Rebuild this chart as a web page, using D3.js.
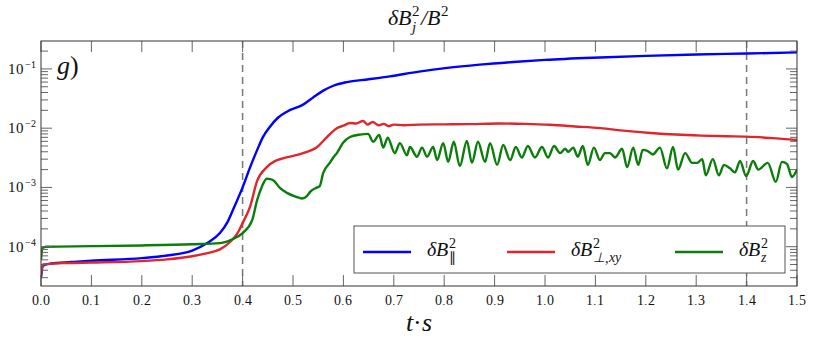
<!DOCTYPE html>
<html>
<head>
<meta charset="utf-8">
<script src="https://cdn.jsdelivr.net/npm/d3@7"></script>
<style>
  @font-face { font-family: "PaperSerif"; font-style: normal; src: local("Liberation Serif"), local("LiberationSerif"), local("LiberationSerif-Regular"); }
  @font-face { font-family: "PaperSerif"; font-style: italic; src: local("Liberation Serif Italic"), local("LiberationSerif-Italic"); }
</style>
</head>
<body style="margin:0">
<script>
// ---- data ----
var xTicks = [0.0, 0.1, 0.2, 0.3, 0.4, 0.5, 0.6, 0.7, 0.8, 0.9, 1.0, 1.1, 1.2, 1.3, 1.4, 1.5];
var yDecades = [1e-4, 1e-3, 1e-2, 1e-1];
var yDecadeExp = ["\u22124", "\u22123", "\u22122", "\u22121"];
var markerTimes = [0.4, 1.4];

// dB_par^2 (blue)
var parallel = [
  [0, 3.0e-5], [0.004, 4.8e-5], [0.02, 5.2e-5], [0.06, 5.5e-5], [0.1, 5.8e-5],
  [0.2, 6.4e-5], [0.25, 7.1e-5], [0.3, 8.6e-5], [0.33, 1.15e-4], [0.355, 1.7e-4],
  [0.37, 2.6e-4], [0.381, 4.2e-4], [0.4, 1.0e-3], [0.415, 2.2e-3], [0.429, 4.3e-3],
  [0.44, 7.0e-3], [0.454, 1.05e-2], [0.47, 1.5e-2], [0.488, 1.9e-2], [0.52, 2.5e-2],
  [0.54, 3.3e-2], [0.56, 4.3e-2], [0.58, 5.2e-2], [0.607, 6.0e-2], [0.65, 6.7e-2],
  [0.692, 7.5e-2], [0.75, 9.0e-2], [0.806, 1.04e-1], [0.87, 1.18e-1], [0.937, 1.31e-1],
  [1.0, 1.42e-1], [1.109, 1.56e-1], [1.2, 1.66e-1], [1.3, 1.75e-1], [1.4, 1.82e-1],
  [1.5, 1.9e-1]
];

// dB_perp,xy^2 (red)
var perpXY = [
  [0, 3.3e-5], [0.004, 5.0e-5], [0.05, 5.3e-5], [0.1, 5.4e-5], [0.2, 5.7e-5],
  [0.25, 6.1e-5], [0.3, 6.9e-5], [0.33, 7.8e-5], [0.355, 9.0e-5], [0.375, 1.2e-4],
  [0.39, 1.7e-4], [0.4, 2.5e-4], [0.415, 4.8e-4], [0.429, 1.3e-3], [0.448, 2.2e-3],
  [0.465, 2.8e-3], [0.48, 3.1e-3], [0.5, 3.4e-3], [0.52, 3.8e-3], [0.548, 4.8e-3],
  [0.567, 7.0e-3], [0.587, 1.0e-2], [0.6, 1.1e-2], [0.613, 1.22e-2], [0.625, 1.2e-2],
  [0.639, 1.32e-2], [0.648, 1.15e-2], [0.658, 1.27e-2], [0.67, 1.12e-2], [0.68, 1.18e-2],
  [0.69, 1.08e-2], [0.7, 1.15e-2], [0.72, 1.12e-2], [0.75, 1.15e-2], [0.8, 1.16e-2],
  [0.85, 1.17e-2], [0.91, 1.2e-2], [0.96, 1.18e-2], [1.01, 1.14e-2], [1.06, 1.07e-2],
  [1.11, 1.0e-2], [1.16, 9.0e-3], [1.21, 8.3e-3], [1.26, 7.8e-3], [1.31, 7.5e-3],
  [1.36, 7.3e-3], [1.4, 7.2e-3], [1.45, 6.8e-3], [1.5, 6.3e-3]
];

// dB_z^2 (green)
var zComp = [
  [0, 6.0e-5], [0.003, 9.5e-5], [0.01, 1.0e-4], [0.1, 1.02e-4], [0.2, 1.05e-4],
  [0.3, 1.1e-4], [0.355, 1.15e-4], [0.381, 1.35e-4], [0.4, 1.7e-4], [0.419, 2.8e-4],
  [0.429, 6.2e-4], [0.438, 1.02e-3], [0.448, 1.4e-3], [0.455, 1.38e-3], [0.462, 1.3e-3],
  [0.474, 9.8e-4], [0.488, 8.1e-4], [0.505, 7.0e-4], [0.518, 6.5e-4], [0.528, 7.2e-4],
  [0.534, 8.4e-4], [0.548, 1.0e-3], [0.553, 1.05e-3], [0.56, 1.76e-3], [0.573, 2.6e-3],
  [0.58, 3.2e-3], [0.587, 3.8e-3], [0.599, 5.6e-3], [0.613, 7.1e-3], [0.633, 7.8e-3],
  [0.649, 8.0e-3], [0.659, 5.9e-3], [0.671, 7.7e-3], [0.679, 4.7e-3], [0.688, 6.9e-3],
  [0.702, 3.8e-3], [0.712, 5.6e-3], [0.726, 3.5e-3], [0.732, 4.8e-3], [0.746, 3.3e-3],
  [0.756, 4.7e-3], [0.766, 3.3e-3], [0.778, 4.8e-3], [0.786, 2.9e-3], [0.798, 5.6e-3],
  [0.808, 2.7e-3], [0.819, 5.9e-3], [0.831, 2.3e-3], [0.845, 6.1e-3], [0.855, 2.6e-3],
  [0.867, 5.9e-3], [0.881, 2.7e-3], [0.891, 5.6e-3], [0.905, 2.4e-3], [0.917, 5.2e-3],
  [0.931, 2.9e-3], [0.942, 4.8e-3], [0.954, 3.2e-3], [0.966, 5.0e-3], [0.98, 3.2e-3],
  [0.994, 4.8e-3], [1.006, 3.2e-3], [1.018, 5.0e-3], [1.03, 3.8e-3], [1.04, 4.5e-3],
  [1.046, 4.0e-3], [1.056, 4.7e-3], [1.065, 3.3e-3], [1.075, 5.0e-3], [1.085, 2.4e-3],
  [1.097, 4.7e-3], [1.109, 2.9e-3], [1.119, 3.8e-3], [1.129, 3.8e-3], [1.139, 3.2e-3],
  [1.153, 4.5e-3], [1.163, 2.2e-3], [1.175, 4.7e-3], [1.185, 2.4e-3], [1.194, 4.3e-3],
  [1.204, 4.1e-3], [1.214, 3.6e-3], [1.228, 4.7e-3], [1.242, 2.1e-3], [1.254, 4.8e-3],
  [1.264, 2.0e-3], [1.278, 3.8e-3], [1.292, 2.6e-3], [1.302, 2.6e-3], [1.312, 3.0e-3],
  [1.319, 1.6e-3], [1.333, 3.0e-3], [1.345, 1.6e-3], [1.355, 2.4e-3], [1.367, 2.1e-3],
  [1.377, 1.8e-3], [1.387, 2.8e-3], [1.399, 1.55e-3], [1.413, 2.8e-3], [1.423, 2.0e-3],
  [1.442, 2.6e-3], [1.458, 1.24e-3], [1.47, 2.7e-3], [1.48, 2.5e-3], [1.49, 1.5e-3],
  [1.5, 2.0e-3]
];

var series = [
  { data: parallel, color: "#0000ff", label: [{ t: "\u03b4B" }, { sup: "2", sub: "\u2225", subUp: true }] },
  { data: perpXY, color: "#e0262b", label: [{ t: "\u03b4B" }, { sup: "2", sub: "\u22a5,xy" }] },
  { data: zComp, color: "#0b7d0b", label: [{ t: "\u03b4B" }, { sup: "2", sub: "z" }] }
];

var FONT = "PaperSerif, 'Liberation Serif', 'Times New Roman', serif";

// ---- layout ----
var margin = { top: 41, right: 16, bottom: 55, left: 41 },
    width = 813 - margin.left - margin.right,
    height = 341 - margin.top - margin.bottom;

var root = d3.select("body").append("svg")
    .attr("width", 813)
    .attr("height", 341)
    .attr("font-family", FONT)
    .style("font-family", FONT);

var svg = root.append("g")
    .attr("transform", "translate(" + margin.left + "," + margin.top + ")");

var x = d3.scaleLinear().domain([0, 1.5]).range([0, width]);
var y = d3.scaleLog().domain([2.17e-5, 0.296]).range([height, 0]);

// all texts go straight onto the svg root, in page coordinates
function addText(px, py, str, fs, italic) {
  return root.append("text")
    .attr("x", px).attr("y", py)
    .attr("font-family", FONT)
    .style("font-family", FONT)
    .attr("font-size", fs)
    .attr("font-style", italic ? "italic" : "normal")
    .attr("fill", "#111")
    .text(str);
}

// math-ish text: italic pieces plus stacked super/subscripts
function mathText(px, py, parts, fs, anchor) {
  var items = [];
  var cx = 0;
  parts.forEach(function(p) {
    if (p.t !== undefined) {
      var t = addText(0, py, p.t, fs, !p.up);
      items.push([t, cx]);
      cx += t.node().getComputedTextLength();
    } else {
      var w = 0;
      if (p.sup) {
        var s = addText(0, py - fs * 0.4, p.sup, fs * 0.68, false);
        items.push([s, cx + 1]);
        w = Math.max(w, s.node().getComputedTextLength() + 1);
      }
      if (p.sub) {
        var b = addText(0, py + fs * 0.3, p.sub, fs * 0.68, !p.subUp);
        items.push([b, cx + 1]);
        w = Math.max(w, b.node().getComputedTextLength() + 1);
      }
      cx += w + 1;
    }
  });
  var shift = anchor === "middle" ? -cx / 2 : (anchor === "end" ? -cx : 0);
  items.forEach(function(it) { it[0].attr("x", px + shift + it[1]); });
}

// ---- clip + lines ----
svg.append("clipPath").attr("id", "clip")
  .append("rect").attr("width", width).attr("height", height);

var line = d3.line()
    .x(function(d) { return x(d[0]); })
    .y(function(d) { return y(d[1]); })
    .curve(d3.curveMonotoneX);

var plot = svg.append("g").attr("clip-path", "url(#clip)");

// dashed markers
plot.selectAll(".marker")
  .data(markerTimes)
  .enter().append("line")
  .attr("x1", function(d) { return x(d); })
  .attr("x2", function(d) { return x(d); })
  .attr("y1", 0).attr("y2", height)
  .attr("stroke", "#777")
  .attr("stroke-width", 1.5)
  .attr("stroke-dasharray", "7,5");

plot.selectAll(".series")
  .data(series)
  .enter().append("path")
  .attr("d", function(d) { return line(d.data); })
  .attr("fill", "none")
  .attr("stroke", function(d) { return d.color; })
  .attr("stroke-width", 2.4)
  .attr("stroke-linejoin", "round");

// ---- ticks (inside, all four sides) ----
var tickCol = "#666";
var majorLen = 11, minorLen = 7;

var xt = svg.append("g");
xTicks.forEach(function(t) {
  xt.append("line").attr("x1", x(t)).attr("x2", x(t)).attr("y1", height).attr("y2", height - majorLen).attr("stroke", tickCol);
  xt.append("line").attr("x1", x(t)).attr("x2", x(t)).attr("y1", 0).attr("y2", majorLen).attr("stroke", tickCol);
  addText(margin.left + x(t), margin.top + height + 19, t.toFixed(1), 14, false)
    .attr("text-anchor", "middle");
});

var minors = [];
[-5, -4, -3, -2, -1].forEach(function(k) {
  for (var m = 2; m <= 9; m++) {
    var v = m * Math.pow(10, k);
    if (v > y.domain()[0] && v < y.domain()[1]) minors.push(v);
  }
});

var yt = svg.append("g");
minors.forEach(function(v) {
  yt.append("line").attr("x1", 0).attr("x2", minorLen).attr("y1", y(v)).attr("y2", y(v)).attr("stroke", tickCol);
  yt.append("line").attr("x1", width).attr("x2", width - minorLen).attr("y1", y(v)).attr("y2", y(v)).attr("stroke", tickCol);
});
yDecades.forEach(function(v, i) {
  yt.append("line").attr("x1", 0).attr("x2", majorLen).attr("y1", y(v)).attr("y2", y(v)).attr("stroke", tickCol);
  yt.append("line").attr("x1", width).attr("x2", width - majorLen).attr("y1", y(v)).attr("y2", y(v)).attr("stroke", tickCol);
  mathText(margin.left - 4, margin.top + y(v) + 5, [{ t: "10", up: true }, { sup: yDecadeExp[i] }], 15, "end");
});

// frame
svg.append("rect")
  .attr("width", width).attr("height", height)
  .attr("fill", "none")
  .attr("stroke", "#333")
  .attr("stroke-width", 1);

// ---- legend ----
var legLeft = 354, legTop = 226;
root.append("rect")
  .attr("x", legLeft).attr("y", legTop)
  .attr("width", 431).attr("height", 47)
  .attr("fill", "#fff")
  .attr("stroke", "#555");
var legX = [9, 153, 321];
series.forEach(function(s, i) {
  root.append("line")
    .attr("x1", legLeft + legX[i]).attr("x2", legLeft + legX[i] + 48)
    .attr("y1", legTop + 26).attr("y2", legTop + 26)
    .attr("stroke", s.color).attr("stroke-width", 2.4);
  mathText(legLeft + legX[i] + 64, legTop + 30, s.label, 20, "start");
});

// ---- titles ----
mathText(419, 25, [{ t: "\u03b4B" }, { sup: "2", sub: "j" }, { t: "/B" }, { sup: "2" }], 22, "middle");
mathText(57, 74, [{ t: "g" }, { t: ")", up: true }], 26, "start");
mathText(419, 331, [{ t: "t" }, { t: " \u00b7 ", up: true }, { t: "s" }], 26, "middle");
</script>
</body>
</html>
